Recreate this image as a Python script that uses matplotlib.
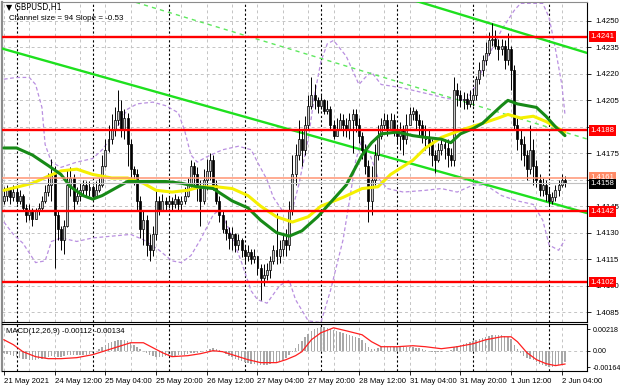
import numpy as np
import matplotlib
matplotlib.use("Agg")
import matplotlib.pyplot as plt
from matplotlib.transforms import blended_transform_factory

plt.rcParams['font.family'] = ['Liberation Sans Narrow', 'Liberation Sans', 'DejaVu Sans']

# ---------------- data (GBPUSD H1, 21 May 20:00 .. 2 Jun 05:00) ----------------
first_open = 1.4148
closes = [1.4151, 1.4154, 1.4150, 1.4153, 1.4148, 1.4151, 1.4144, 1.4140, 1.4142, 1.4138,
          1.4142, 1.4144, 1.4148, 1.4153, 1.4157, 1.4163, 1.4140, 1.4132, 1.4126, 1.4134,
          1.4157, 1.4161, 1.4148, 1.4151, 1.4154, 1.4157, 1.4154, 1.4156, 1.4151, 1.4154,
          1.4157, 1.4168, 1.4177, 1.4183, 1.4188, 1.4194, 1.4199, 1.4188, 1.4195, 1.4180,
          1.4166, 1.4163, 1.4148, 1.4132, 1.4137, 1.4123, 1.4120, 1.4129, 1.4148, 1.4143,
          1.4148, 1.4146, 1.4148, 1.4146, 1.4149, 1.4146, 1.4148, 1.4151, 1.4157, 1.4168,
          1.4163, 1.4156, 1.4148, 1.4160, 1.4165, 1.4171, 1.4157, 1.4148, 1.4140, 1.4132,
          1.4130, 1.4127, 1.4129, 1.4123, 1.4126, 1.4120, 1.4117, 1.4119, 1.4115, 1.4117,
          1.4110, 1.4104, 1.4106, 1.4109, 1.4114, 1.4120, 1.4117, 1.4121, 1.4126, 1.4123,
          1.4143, 1.4163, 1.4174, 1.4183, 1.4177, 1.4191, 1.4202, 1.4208, 1.4205, 1.4202,
          1.4205, 1.4199, 1.4200, 1.4191, 1.4185, 1.4189, 1.4194, 1.4191, 1.4188, 1.4194,
          1.4197, 1.4191, 1.4185, 1.4177, 1.4168, 1.4148, 1.4160, 1.4174, 1.4185, 1.4191,
          1.4194, 1.4189, 1.4194, 1.4188, 1.4185, 1.4188, 1.4183, 1.4191, 1.4197, 1.4199,
          1.4194, 1.4191, 1.4185, 1.4183, 1.4180, 1.4174, 1.4171, 1.4177, 1.4180, 1.4178,
          1.4174, 1.4171, 1.4211, 1.4208, 1.4205, 1.4206, 1.4203, 1.4205, 1.4208, 1.4217,
          1.4222, 1.4228, 1.4232, 1.4239, 1.4240, 1.4236, 1.4234, 1.4236, 1.4228, 1.4234,
          1.4222, 1.4191, 1.4183, 1.4180, 1.4174, 1.4166, 1.4177, 1.4168, 1.4160, 1.4154,
          1.4157, 1.4152, 1.4148, 1.4150, 1.4154, 1.4157, 1.4160, 1.4158]
highs = [1.4156, 1.4157, 1.4156, 1.4157, 1.4156, 1.4154, 1.4152, 1.4146, 1.4146, 1.4144,
         1.4144, 1.4147, 1.4151, 1.4157, 1.4164, 1.4172, 1.4168, 1.4143, 1.4134, 1.4137,
         1.4166, 1.4167, 1.4163, 1.4156, 1.4158, 1.4160, 1.4159, 1.4159, 1.4157, 1.4159,
         1.4161, 1.4174, 1.4183, 1.4191, 1.4197, 1.4201, 1.4211, 1.4205, 1.4200, 1.4198,
         1.4183, 1.4168, 1.4166, 1.4151, 1.4143, 1.4140, 1.4129, 1.4134, 1.4154, 1.4151,
         1.4152, 1.4150, 1.4151, 1.4150, 1.4152, 1.4151, 1.4151, 1.4156, 1.4161, 1.4171,
         1.4170, 1.4167, 1.4160, 1.4166, 1.4172, 1.4175, 1.4174, 1.4160, 1.4151, 1.4143,
         1.4137, 1.4133, 1.4133, 1.4130, 1.4129, 1.4127, 1.4123, 1.4123, 1.4121, 1.4121,
         1.4117, 1.4112, 1.4112, 1.4113, 1.4117, 1.4123, 1.4141, 1.4126, 1.4130, 1.4132,
         1.4148, 1.4174, 1.4180, 1.4194, 1.4188, 1.4196, 1.4208, 1.4218, 1.4214, 1.4207,
         1.4208, 1.4206, 1.4205, 1.4202, 1.4194, 1.4195, 1.4198, 1.4197, 1.4195, 1.4198,
         1.4200, 1.4200, 1.4195, 1.4187, 1.4180, 1.4171, 1.4168, 1.4180, 1.4191, 1.4195,
         1.4198, 1.4197, 1.4198, 1.4197, 1.4191, 1.4193, 1.4191, 1.4197, 1.4201, 1.4201,
         1.4200, 1.4197, 1.4194, 1.4191, 1.4188, 1.4183, 1.4177, 1.4181, 1.4184, 1.4183,
         1.4183, 1.4178, 1.4218, 1.4215, 1.4211, 1.4210, 1.4209, 1.4211, 1.4212, 1.4219,
         1.4227, 1.4231, 1.4238, 1.4244, 1.4249, 1.4245, 1.4240, 1.4240, 1.4239, 1.4243,
         1.4236, 1.4225, 1.4195, 1.4188, 1.4185, 1.4177, 1.4191, 1.4183, 1.4171, 1.4163,
         1.4161, 1.4160, 1.4156, 1.4153, 1.4157, 1.4160, 1.4163, 1.4162]
lows = [1.4146, 1.4148, 1.4146, 1.4148, 1.4146, 1.4146, 1.4142, 1.4136, 1.4137, 1.4134,
        1.4138, 1.4140, 1.4143, 1.4147, 1.4151, 1.4148, 1.4110, 1.4126, 1.4120, 1.4118,
        1.4133, 1.4151, 1.4143, 1.4146, 1.4148, 1.4151, 1.4150, 1.4151, 1.4148, 1.4150,
        1.4153, 1.4156, 1.4167, 1.4176, 1.4180, 1.4185, 1.4191, 1.4184, 1.4183, 1.4168,
        1.4160, 1.4157, 1.4143, 1.4127, 1.4123, 1.4117, 1.4114, 1.4117, 1.4126, 1.4140,
        1.4142, 1.4142, 1.4144, 1.4143, 1.4144, 1.4142, 1.4143, 1.4146, 1.4150, 1.4156,
        1.4157, 1.4148, 1.4134, 1.4146, 1.4154, 1.4160, 1.4154, 1.4146, 1.4136, 1.4130,
        1.4126, 1.4121, 1.4120, 1.4119, 1.4120, 1.4116, 1.4113, 1.4114, 1.4112, 1.4113,
        1.4106, 1.4092, 1.4100, 1.4103, 1.4104, 1.4112, 1.4112, 1.4113, 1.4117, 1.4117,
        1.4120, 1.4140, 1.4157, 1.4171, 1.4168, 1.4174, 1.4188, 1.4200, 1.4200, 1.4198,
        1.4200, 1.4197, 1.4197, 1.4188, 1.4183, 1.4185, 1.4188, 1.4185, 1.4184, 1.4183,
        1.4175, 1.4187, 1.4181, 1.4172, 1.4163, 1.4136, 1.4140, 1.4157, 1.4171, 1.4183,
        1.4188, 1.4185, 1.4188, 1.4185, 1.4180, 1.4177, 1.4174, 1.4180, 1.4191, 1.4194,
        1.4189, 1.4185, 1.4181, 1.4177, 1.4174, 1.4168, 1.4164, 1.4170, 1.4174, 1.4172,
        1.4167, 1.4168, 1.4168, 1.4202, 1.4201, 1.4200, 1.4200, 1.4201, 1.4202, 1.4205,
        1.4214, 1.4219, 1.4225, 1.4231, 1.4236, 1.4234, 1.4228, 1.4231, 1.4223, 1.4225,
        1.4211, 1.4188, 1.4177, 1.4171, 1.4168, 1.4160, 1.4163, 1.4157, 1.4156, 1.4151,
        1.4151, 1.4148, 1.4145, 1.4146, 1.4148, 1.4151, 1.4156, 1.4156]

# moving averages read at sample bars
ma_fast_bars = [0, 9, 14, 18, 23, 28, 34, 39, 44, 48, 53, 58, 62, 67, 72, 77, 81, 86, 91, 96,
                100, 107, 113, 118, 122, 129, 133, 138, 144, 151, 156, 159, 163, 167, 171, 174, 177]
ma_fast_vals = [1.4154, 1.4158, 1.4162, 1.4165, 1.4166, 1.4163, 1.4161, 1.4161, 1.4158, 1.4154,
                1.4153, 1.4154, 1.4156, 1.4156, 1.4155, 1.4151, 1.4145, 1.4139, 1.4136, 1.4139,
                1.4145, 1.4150, 1.4155, 1.4156, 1.4163, 1.4171, 1.4178, 1.4184, 1.4188, 1.4192,
                1.4195, 1.4197, 1.4195, 1.4196, 1.4193, 1.4190, 1.4187]
ma_slow_bars = [0, 4, 9, 14, 18, 21, 25, 28, 31, 36, 39, 42, 47, 51, 56, 61, 66, 72, 77, 81,
                86, 90, 94, 99, 103, 108, 113, 116, 119, 124, 129, 133, 138, 141, 144, 148,
                151, 154, 157, 159, 162, 165, 168, 171, 174, 177]
ma_slow_vals = [1.4178, 1.4178, 1.4174, 1.4168, 1.4163, 1.4156, 1.4151, 1.4149, 1.4151, 1.4156,
                1.4159, 1.4159, 1.4159, 1.4159, 1.4158, 1.4156, 1.4155, 1.4148, 1.4144, 1.4137,
                1.4130, 1.4128, 1.4131, 1.4139, 1.4147, 1.4157, 1.4174, 1.4181, 1.4186, 1.4187,
                1.4185, 1.4184, 1.4183, 1.4181, 1.4186, 1.4189, 1.4192, 1.4197, 1.4202, 1.4205,
                1.4203, 1.4202, 1.4201, 1.4196, 1.4190, 1.4185]
# Bollinger bands read at sample bars
bb_up_bars = [0, 4, 8, 10, 12, 13, 15, 18, 23, 28, 31, 34, 37, 39, 42, 47, 51, 55, 57, 59,
              61, 64, 69, 74, 78, 80, 83, 85, 88, 91, 93, 96, 98, 100, 102, 104, 108, 112,
              114, 116, 119, 126, 133, 140, 146, 149, 152, 157, 161, 163, 170, 172, 174, 176, 177]
bb_up_vals = [1.4217, 1.4218, 1.4218, 1.4214, 1.4201, 1.4180, 1.4170, 1.4167, 1.4170, 1.4172,
              1.4177, 1.4184, 1.4194, 1.4200, 1.4203, 1.4204, 1.4202, 1.4198, 1.4188, 1.4174,
              1.4170, 1.4173, 1.4177, 1.4179, 1.4177, 1.4170, 1.4160, 1.4150, 1.4142, 1.4143,
              1.4157, 1.4183, 1.4208, 1.4227, 1.4237, 1.4239, 1.4230, 1.4214, 1.4218, 1.4221,
              1.4214, 1.4212, 1.4209, 1.4206, 1.4205, 1.4214, 1.4227, 1.4245, 1.4256, 1.4260,
              1.4260, 1.4252, 1.4234, 1.4214, 1.4197]
bb_lo_bars = [0, 3, 6, 10, 13, 15, 18, 23, 28, 34, 40, 44, 49, 53, 56, 59, 62, 66, 68, 71,
              75, 78, 80, 83, 87, 90, 92, 96, 100, 103, 107, 109, 111, 113, 115, 118, 121,
              126, 133, 138, 143, 148, 152, 157, 162, 167, 170, 172, 175, 177]
bb_lo_vals = [1.4136, 1.4129, 1.4124, 1.4113, 1.4114, 1.4125, 1.4127, 1.4125, 1.4127, 1.4128,
              1.4129, 1.4126, 1.4120, 1.4114, 1.4113, 1.4117, 1.4126, 1.4140, 1.4143, 1.4132,
              1.4113, 1.4097, 1.4092, 1.4090, 1.4100, 1.4103, 1.4092, 1.4080, 1.4079, 1.4097,
              1.4126, 1.4148, 1.4171, 1.4183, 1.4177, 1.4161, 1.4155, 1.4153, 1.4154, 1.4155,
              1.4153, 1.4157, 1.4157, 1.4151, 1.4148, 1.4146, 1.4137, 1.4123, 1.4120, 1.4126]

# MACD(12,26,9): histogram per bar, signal at sample bars
macd_hist = [-0.0002, -0.0003, -0.0004, -0.0005, -0.0006,
             -0.0007, -0.0008, -0.0008, -0.0009, -0.0009, -0.0009, -0.0008, -0.0008, -0.0007,
             -0.0006, -0.0005, -0.0006, -0.0006, -0.0006,
             -0.0005, -0.0004, -0.0004, -0.0004, -0.0004, -0.0004, -0.0004, -0.0004, -0.0003,
             -0.0002, 0.0000, 0.0002, 0.0004, 0.0006,
             0.0008, 0.0009, 0.0010, 0.0011, 0.0011, 0.0011, 0.0010, 0.0008, 0.0006, 0.0004,
             0.0002, 0.0000, -0.0002,
             -0.0004, -0.0005, -0.0006, -0.0006, -0.0006, -0.0005,
             -0.0005, -0.0005, -0.0005, -0.0004, -0.0004, -0.0004, -0.0003, -0.0002, -0.0002, -0.0002, -0.0001,
             0.0000, 0.0001, 0.0002, 0.0003, 0.0002, 0.0001, -0.0001, -0.0003,
             -0.0005, -0.0006, -0.0008, -0.0009, -0.0010, -0.0011,
             -0.0012, -0.0013, -0.0013, -0.0014, -0.0014, -0.0014, -0.0014, -0.0013, -0.0012, -0.0011, -0.0010,
             -0.0009, -0.0007, -0.0004, -0.0001, 0.0003,
             0.0007, 0.0010, 0.0014, 0.0017, 0.0020,
             0.0022, 0.0023, 0.0024, 0.0024, 0.0023, 0.0022,
             0.0021, 0.0020, 0.0019, 0.0018, 0.0017, 0.0016, 0.0015, 0.0014, 0.0013, 0.0011, 0.0008, 0.0004, 0.0002,
             0.0002, 0.0003, 0.0004, 0.0004, 0.0004, 0.0004, 0.0004, 0.0004, 0.0004,
             0.0004, 0.0004, 0.0004, 0.0004, 0.0003, 0.0003, 0.0002, 0.0001, 0.0000, -0.0001,
             -0.0001, -0.0001, -0.0001, 0.0000,
             0.0000, 0.0001, 0.0004, 0.0005, 0.0006,
             0.0007, 0.0008, 0.0009, 0.0010, 0.0011, 0.0012,
             0.0013, 0.0014, 0.0015, 0.0016, 0.0016, 0.0016, 0.0016, 0.0015,
             0.0014, 0.0012,
             0.0006, 0.0002, -0.0002,
             -0.0005, -0.0007, -0.0008, -0.0009, -0.0011,
             -0.0013, -0.0014, -0.0015, -0.0016, -0.0016,
             -0.0015, -0.0014, -0.0013, -0.00112]
signal_bars = [0, 3, 6, 10, 14, 18, 23, 28, 32, 37, 40, 44, 47, 50, 53, 58, 62, 66, 69, 72,
               77, 81, 86, 89, 92, 94, 97, 100, 104, 108, 113, 116, 119, 124, 129, 133, 138,
               143, 148, 152, 157, 160, 162, 165, 168, 171, 174, 177]
signal_vals = [0.0011, 0.0006, -0.0001, -0.0006, -0.0008, -0.0008, -0.0007, -0.0004, 0.0000, 0.0005,
               0.0008, 0.0008, 0.0003, -0.0002, -0.0006, -0.0005, -0.0003, 0.0000, -0.0001, -0.0004,
               -0.0009, -0.0012, -0.0012, -0.0009, -0.0005, -0.0001, 0.0011, 0.0018, 0.0023, 0.0020,
               0.0016, 0.0009, 0.0004, 0.0004, 0.0005, 0.0004, 0.0002, 0.0004, 0.0007, 0.0011,
               0.0014, 0.0014, 0.0009, -0.0002, -0.0009, -0.0013, -0.0015, -0.00134]

# levels / objects
support_resistance = [1.4241, 1.4188, 1.4142, 1.4102]
ask_level = 1.4161
bid_level = 1.4158
channel_main = ([-1.23, 183.95], [1.42347, 1.41411])
channel_upper = ([129.05, 183.95], [1.42619, 1.42319])
channel_dashed = ([39.15, 183.95], [1.42619, 1.41831])

price_ticks = [1.4085, 1.4100, 1.4115, 1.4130, 1.4145, 1.4160, 1.4175, 1.4190, 1.4205, 1.4220, 1.4235, 1.4250]
hidden_price_ticks = [1.4160, 1.4190]   # covered by the level boxes in the terminal
macd_ticks = [0.00218, 0.0, -0.00164]
macd_tick_labels = ['0.00218', '0.00', '-0.00164']
time_tick_bars = [0, 16, 32, 48, 64, 80, 96, 112, 128, 144, 160, 176]
time_tick_labels = ['21 May 2021', '24 May 12:00', '25 May 04:00', '25 May 20:00', '26 May 12:00',
                    '27 May 04:00', '27 May 20:00', '28 May 12:00', '31 May 04:00', '31 May 20:00',
                    '1 Jun 12:00', '2 Jun 04:00']
day_start_bars = [4, 28, 52, 76, 100, 124, 148, 172]

FS = 5.6  # small MT4-like label size

# ---------------- drawing ----------------
n = min(len(closes), len(highs), len(lows))
idx = np.arange(n)
c = np.array(closes[:n])
o = np.concatenate([[first_open], c[:-1]])
h = np.maximum(np.array(highs[:n]), np.maximum(o, c))
l = np.minimum(np.array(lows[:n]), np.minimum(o, c))

fig = plt.figure(figsize=(6.2, 3.88), dpi=100)
fig.patch.set_facecolor('white')
ax = fig.add_axes([2/620, 1-322/388, 585/620, 320/388])
axm = fig.add_axes([2/620, 1-371/388, 585/620, 47/388])

XMIN, XMAX = -0.6, 183.95
for a in (ax, axm):
    a.set_xlim(XMIN, XMAX)
    a.set_facecolor('white')
ax.set_ylim(1.407933, 1.426077)
axm.set_ylim(-0.00204, 0.002683)

grid_kw = dict(color='#c4c4c4', lw=0.7, ls=(0, (3, 3)), zorder=0)
for p in price_ticks:
    ax.axhline(p, **grid_kw)
for g in range(0, 185, 8):
    ax.axvline(g, **grid_kw)
    axm.axvline(g, **grid_kw)
axm.axhline(0.0, **grid_kw)
for d in day_start_bars:
    ax.axvline(d, color='black', lw=0.8, ls=(0, (2, 2)), zorder=1)
    axm.axvline(d, color='black', lw=0.8, ls=(0, (2, 2)), zorder=1)

# Bollinger bands
bb_kw = dict(color='#b98fe0', lw=0.9, ls=(0, (3, 2)), zorder=2)
ax.plot(bb_up_bars, bb_up_vals, **bb_kw)
ax.plot(bb_lo_bars, bb_lo_vals, **bb_kw)

# channels
ax.plot(channel_dashed[0], channel_dashed[1], color='#5ee85e', lw=1.0, ls=(0, (3, 3)), zorder=2)
ax.plot(channel_main[0], channel_main[1], color='#1ee01e', lw=1.7, zorder=3)
ax.plot(channel_upper[0], channel_upper[1], color='#1ee01e', lw=1.7, zorder=3)

# candles
ax.vlines(idx, l, h, color='black', lw=0.7, zorder=4)
bull = c >= o
body_bottom = np.minimum(o, c)
body_h = np.maximum(np.abs(c - o), 0.00003)
ax.bar(idx[bull], body_h[bull], bottom=body_bottom[bull], width=0.62,
       color='#c8c8c8', edgecolor='black', linewidth=0.5, zorder=5)
ax.bar(idx[~bull], body_h[~bull], bottom=body_bottom[~bull], width=0.62,
       color='black', edgecolor='black', linewidth=0.5, zorder=5)

# moving averages
ax.plot(ma_fast_bars, ma_fast_vals, color='#f5f000', lw=2.2, zorder=6, solid_capstyle='round')
ax.plot(ma_slow_bars, ma_slow_vals, color='#178a17', lw=2.2, zorder=7, solid_capstyle='round')

# horizontal levels
for p in support_resistance:
    ax.axhline(p, color='#ff0000', lw=1.7, zorder=8)
ax.axhline(ask_level, color='#ff9474', lw=1.1, zorder=8)
ax.axhline(bid_level, color='#c0c0c0', lw=0.8, zorder=8)

# right price axis
ax.yaxis.tick_right()
ax.set_yticks(price_ticks)
ax.set_yticklabels(['' if p in hidden_price_ticks else f'{p:.4f}' for p in price_ticks])
ax.tick_params(axis='y', length=3, width=0.6, pad=3, labelsize=FS, colors='black')
ax.tick_params(axis='x', bottom=False, labelbottom=False)

tr = blended_transform_factory(ax.transAxes, ax.transData)
box_kw = dict(ha='left', va='center', fontsize=FS, transform=tr, clip_on=False, zorder=20)
for p in support_resistance:
    ax.text(1.006, p, f'{p:.4f}', color='white',
            bbox=dict(boxstyle='square,pad=0.25', fc='#ff0000', ec='none'), **box_kw)
ax.text(1.006, ask_level + 0.00002, f'{ask_level:.4f}', color='white',
        bbox=dict(boxstyle='square,pad=0.25', fc='#ff8a66', ec='none'), **box_kw)
ax.text(1.006, bid_level - 0.00004, f'{bid_level:.4f}', color='white',
        bbox=dict(boxstyle='square,pad=0.25', fc='black', ec='none'), **box_kw)

# MACD panel
axm.bar(np.arange(len(macd_hist)), macd_hist, width=0.45, color='#a8a8a8', zorder=2)
axm.plot(signal_bars, signal_vals, color='#ff2020', lw=0.9, zorder=3)
axm.yaxis.tick_right()
axm.set_yticks(macd_ticks)
axm.set_yticklabels(macd_tick_labels)
axm.tick_params(axis='y', length=2, width=0.6, pad=2, labelsize=5.1)
axm.set_xticks(time_tick_bars)
axm.set_xticklabels(time_tick_labels, ha='left')
axm.tick_params(axis='x', length=3, width=0.6, pad=2, labelsize=FS)
axm.text(0.006, 0.84, 'MACD(12,26,9) -0.00112 -0.00134', transform=axm.transAxes,
         fontsize=FS, va='center', ha='left', zorder=10)

for a in (ax, axm):
    for s in ('top', 'bottom', 'right'):
        a.spines[s].set_color('black')
        a.spines[s].set_linewidth(0.8)
    a.spines['left'].set_color('#8c8c8c')
    a.spines['left'].set_linewidth(1.6)
ax.spines['top'].set_color('#8c8c8c')

# header texts
ax.text(0.006, 0.982, '\u25bc GBPUSD,H1', transform=ax.transAxes, fontsize=5.8,
        va='center', ha='left', family=['DejaVu Sans'], zorder=10)
ax.text(0.012, 0.948, 'Channel size = 94 Slope = -0.53', transform=ax.transAxes, fontsize=5.8,
        va='center', ha='left', zorder=10)

fig.savefig('out.png', dpi=100)
